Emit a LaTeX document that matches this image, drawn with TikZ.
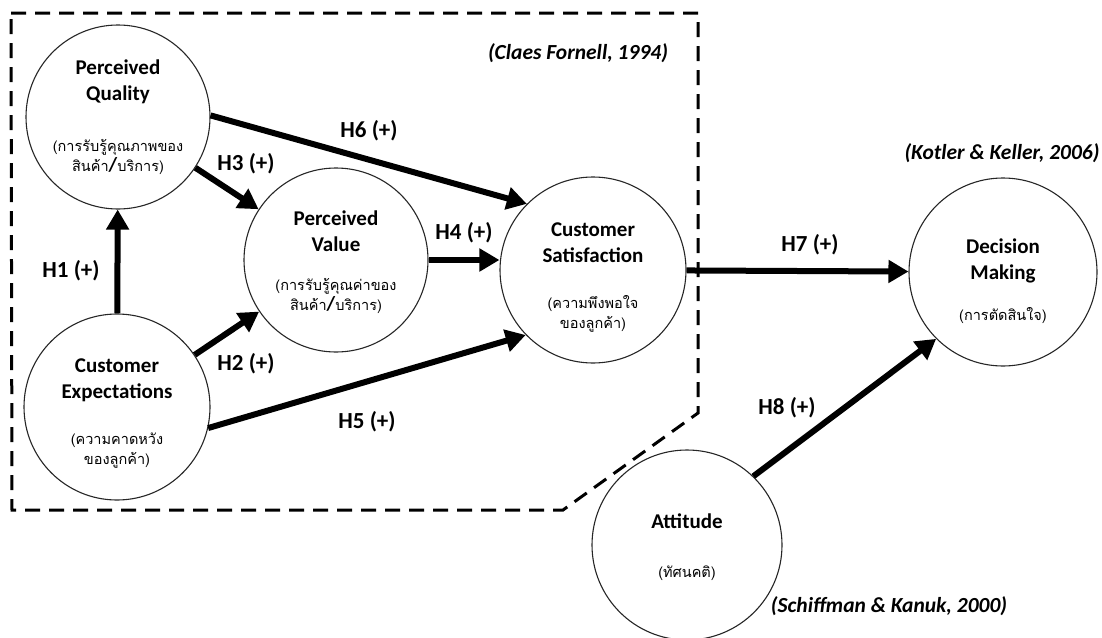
\documentclass[tikz,border=0pt]{standalone}
\usepackage{fontspec}
\setmainfont{Carlito}
\newfontfamily\thaifont[Script=Thai]{Loma}
\usetikzlibrary{arrows.meta}
\tikzset{
  circ/.style={circle, draw=black!85, line width=1.1pt, minimum size=#1, inner sep=0pt},
  circ/.default=186pt,
  titl/.style={align=center, font=\fontsize{21}{26}\selectfont\bfseries, inner sep=0pt},
  thai/.style={align=center, font=\fontsize{14.5}{20}\selectfont\thaifont, inner sep=0pt},
  hyp/.style={font=\fontsize{23}{26}\selectfont\bfseries, inner sep=0pt},
  cite/.style={font=\fontsize{21.5}{24}\selectfont\bfseries\itshape, inner sep=0pt},
  arr/.style={line width=6pt, -{Triangle[length=20pt,width=22pt]}},
  bound/.style={line width=3pt, dash pattern=on 15pt off 9pt}
}
\newcommand{\thslash}{\smash{\fontsize{20}{20}\selectfont\bfseries\rmfamily /}}
\begin{document}
\begin{tikzpicture}[x=1pt,y=-1pt]
\useasboundingbox (0,0) rectangle (1102,637);
% dashed boundary
\coordinate (b1) at (11,13);
\coordinate (b2) at (698,13);
\coordinate (b3) at (698,413);
\coordinate (b4) at (563,510);
\coordinate (b5) at (12,510);
\draw[bound] (b1) -- (b2) -- (b3) -- (b4) -- (b5) -- (b1);

% circles
\node[circ=184pt] (pq) at (118,117) {};
\node[circ=184pt] (pv) at (336,260) {};
\node[circ] (cs) at (593,270) {};
\node[circ] (ce) at (117,407) {};
\node[circ=188pt] (dm) at (1003,272) {};
\node[circ=190pt] (at) at (687,545) {};

% texts
\node[titl] (pqt) at (118,82) {Perceived\\Quality};
\node[thai] (pqh) at (118,157) {(การรับรู้คุณภาพของ\\สินค้า\thslash บริการ)};
\node[titl] (pvt) at (336,231) {Perceived\\Value};
\node[thai] (pvh) at (336,296) {(การรับรู้คุณค่าของ\\สินค้า\thslash บริการ)};
\node[titl] (cst) at (593,243) {Customer\\Satisfaction};
\node[thai] (csh) at (593,314) {(ความพึงพอใจ\\ของลูกค้า)};
\node[titl] (cet) at (117,380) {Customer\\Expectations};
\node[thai] (ceh) at (117,451) {(ความคาดหวัง\\ของลูกค้า)};
\node[titl] (dmt) at (1003,261) {Decision\\Making};
\node[thai] (dmh) at (1003,316) {(การตัดสินใจ)};
\node[titl] (att) at (687,521) {Attitude};
\node[thai] (ath) at (687,573) {(ทัศนคติ)};

% arrows
\draw[arr] (ce) -- (pq);
\draw[arr] (ce) -- (pv);
\draw[arr] (pq) -- (pv);
\draw[arr] (pv.east) -- (pv.east -| cs.west);
\draw[arr] (ce.-13) -- (cs.224);
\draw[arr] (pq.1) -- (cs.135);
\draw[arr] (cs) -- (dm);
\draw[arr] (at.46) -- (dm.225);

% hypothesis labels
\node[hyp] (h1) at (71,271) {H1 (+)};
\node[hyp] (h2) at (246,364) {H2 (+)};
\node[hyp] (h3) at (246,164) {H3 (+)};
\node[hyp] (h4) at (464,233) {H4 (+)};
\node[hyp] (h5) at (367,422) {H5 (+)};
\node[hyp] (h6) at (369,131) {H6 (+)};
\node[hyp] (h7) at (810,245) {H7 (+)};
\node[hyp] (h8) at (787,408) {H8 (+)};

% citations
\node[cite] (c1) at (578,53) {(Claes Fornell, 1994)};
\node[cite] (c2) at (1002,153) {(Kotler \& Keller, 2006)};
\node[cite] (c3) at (889,606) {(Schiffman \& Kanuk, 2000)};
\end{tikzpicture}
\end{document}
